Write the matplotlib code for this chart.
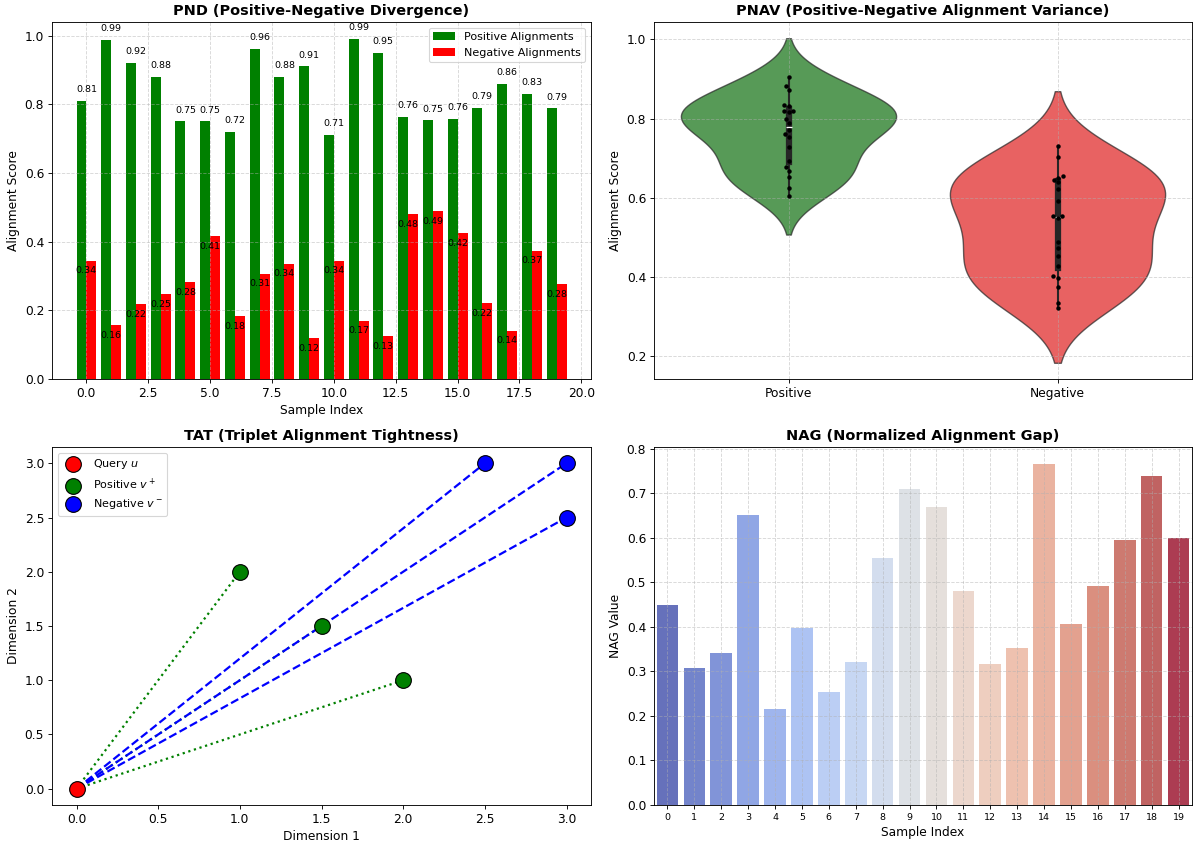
import numpy as np
import pandas as pd
import matplotlib
matplotlib.use("Agg")
import matplotlib.pyplot as plt
import seaborn as sns

# ---------------- data ----------------
sample_idx = list(range(20))
pos_align = [0.81, 0.987, 0.92, 0.88, 0.75, 0.75, 0.72, 0.96, 0.88, 0.91,
             0.71, 0.99, 0.95, 0.764, 0.753, 0.758, 0.79, 0.86, 0.83, 0.788]
neg_align = [0.345, 0.157, 0.217, 0.248, 0.283, 0.415, 0.182, 0.307, 0.336, 0.12,
             0.345, 0.17, 0.126, 0.48, 0.49, 0.424, 0.222, 0.141, 0.374, 0.277]

violin_pos = [0.906, 0.882, 0.873, 0.835, 0.832, 0.820, 0.820, 0.817, 0.799, 0.789,
              0.770, 0.762, 0.754, 0.728, 0.694, 0.678, 0.668, 0.652, 0.625, 0.604]
violin_neg = [0.731, 0.704, 0.655, 0.651, 0.646, 0.640, 0.622, 0.592, 0.554, 0.554,
              0.549, 0.489, 0.473, 0.454, 0.429, 0.403, 0.399, 0.375, 0.335, 0.322]
violin_cats = ["Positive", "Negative"]

query_pt = (0.0, 0.0)
pos_x = [1.0, 1.5, 2.0]
pos_y = [2.0, 1.5, 1.0]
neg_x = [2.5, 3.0, 3.0]
neg_y = [3.0, 3.0, 2.5]

nag_values = [0.45, 0.308, 0.342, 0.652, 0.215, 0.398, 0.254, 0.321, 0.555, 0.711,
              0.670, 0.481, 0.316, 0.353, 0.766, 0.406, 0.492, 0.596, 0.739, 0.600]

plt.rcParams["font.size"] = 11

# ---------------- figure ----------------
W, H = 1198, 844
fig = plt.figure(figsize=(W / 80, H / 80), dpi=80)

def rect(l, r, t, b):
    return [l / W, 1 - b / H, (r - l) / W, (b - t) / H]

ax_pnd = fig.add_axes(rect(52, 591, 22, 379))
ax_pnav = fig.add_axes(rect(654, 1192, 22, 379))
ax_tat = fig.add_axes(rect(52, 591, 447, 805))
ax_nag = fig.add_axes(rect(654, 1192, 447, 805))

TITLE_FS = 13

# PND
ax = ax_pnd
w = 0.4
xi = np.array(sample_idx)
ax.bar(xi - w / 2, pos_align, w, color="green", label="Positive Alignments")
ax.bar(xi + w / 2, neg_align, w, color="red", label="Negative Alignments")
for i, (p, n) in enumerate(zip(pos_align, neg_align)):
    ax.text(i, p + 0.02, f"{p:.2f}", ha="center", va="bottom", fontsize=8.5)
    ax.text(i, n - 0.03, f"{n:.2f}", ha="center", va="center", fontsize=8.5)
ax.set_title("PND (Positive-Negative Divergence)", fontweight="bold", fontsize=TITLE_FS)
ax.set_xlabel("Sample Index")
ax.set_ylabel("Alignment Score")
ax.legend(loc="upper right", fontsize=10)
ax.grid(True, linestyle="--", alpha=0.5)

# PNAV
ax = ax_pnav
df = pd.DataFrame({
    "Type": [violin_cats[0]] * len(violin_pos) + [violin_cats[1]] * len(violin_neg),
    "Score": violin_pos + violin_neg,
})
sns.violinplot(data=df, x="Type", y="Score", hue="Type", palette=["green", "red"],
               legend=False, ax=ax)
for coll in ax.collections:
    coll.set_alpha(0.7)
sns.swarmplot(data=df, x="Type", y="Score", color="black", size=4, ax=ax)
ax.set_title("PNAV (Positive-Negative Alignment Variance)", fontweight="bold", fontsize=TITLE_FS)
ax.set_xlabel("")
ax.set_ylabel("Alignment Score")
ax.grid(True, linestyle="--", alpha=0.5)

# TAT
ax = ax_tat
for px, py in zip(pos_x, pos_y):
    ax.plot([query_pt[0], px], [query_pt[1], py], color="green", linestyle=":", linewidth=2)
for nx, ny in zip(neg_x, neg_y):
    ax.plot([query_pt[0], nx], [query_pt[1], ny], color="blue", linestyle="--", linewidth=2)
ax.scatter([query_pt[0]], [query_pt[1]], s=200, color="red", edgecolor="black",
           label="Query $u$", zorder=5)
ax.scatter(pos_x, pos_y, s=200, color="green", edgecolor="black",
           label="Positive $v^+$", zorder=5)
ax.scatter(neg_x, neg_y, s=200, color="blue", edgecolor="black",
           label="Negative $v^-$", zorder=5)
ax.set_title("TAT (Triplet Alignment Tightness)", fontweight="bold", fontsize=TITLE_FS)
ax.set_xlabel("Dimension 1")
ax.set_ylabel("Dimension 2")
ax.legend(loc="upper left", fontsize=10)

# NAG
ax = ax_nag
dfn = pd.DataFrame({"Sample": sample_idx, "NAG": nag_values})
sns.barplot(data=dfn, x="Sample", y="NAG", hue="Sample", palette="coolwarm",
            legend=False, alpha=0.85, ax=ax)
ax.set_title("NAG (Normalized Alignment Gap)", fontweight="bold", fontsize=TITLE_FS)
ax.set_xlabel("Sample Index")
ax.set_ylabel("NAG Value")
ax.tick_params(axis="x", labelsize=8.5)
ax.grid(True, linestyle="--", alpha=0.5)

fig.savefig("out.png", dpi=80)
